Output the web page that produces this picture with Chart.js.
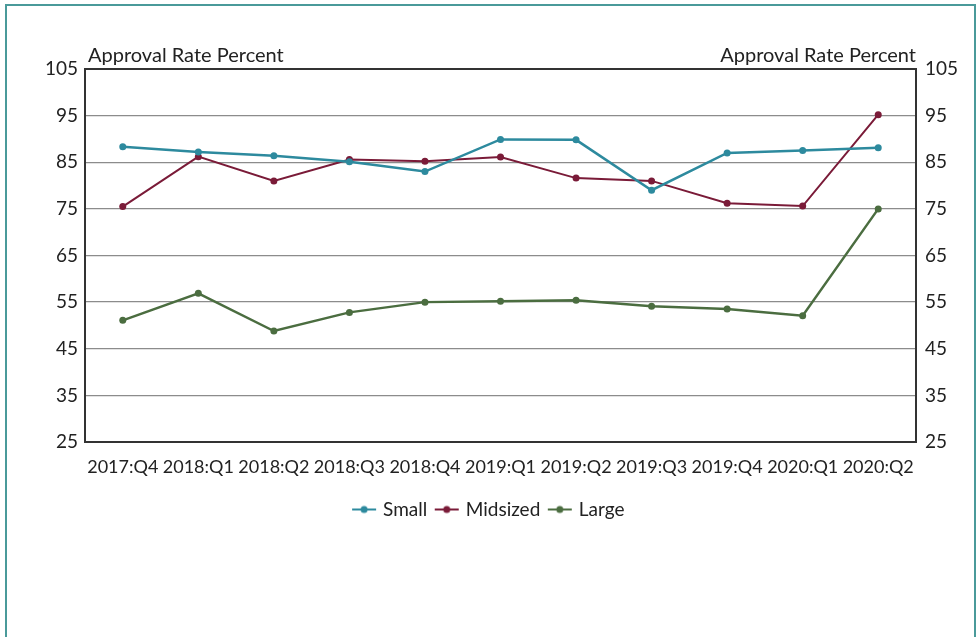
<!DOCTYPE html>
<html>
<head>
<meta charset="utf-8">
<script src="https://cdn.jsdelivr.net/npm/chart.js@4"></script>
<style>
  html, body { margin: 0; padding: 0; background: #fff; }
  #frame {
    position: absolute; left: 5px; top: 4px; width: 971px; height: 660px;
    border: 2px solid #4a9a9a; box-sizing: border-box;
  }
  #wrap { position: absolute; left: 0; top: 0; width: 979px; height: 637px; }
</style>
</head>
<body>
<div id="frame"></div>
<div id="wrap"><canvas id="chart"></canvas></div>
<script>
const quarters = ['2017:Q4', '2018:Q1', '2018:Q2', '2018:Q3', '2018:Q4', '2019:Q1',
  '2019:Q2', '2019:Q3', '2019:Q4', '2020:Q1', '2020:Q2'];
const small = [88.3, 87.2, 86.4, 85.1, 83.0, 89.9, 89.8, 79.0, 87.0, 87.5, 88.1];
const midsized = [75.5, 86.2, 81.0, 85.6, 85.2, 86.1, 81.6, 81.0, 76.2, 75.6, 95.2];
const large = [51.1, 56.9, 48.8, 52.8, 55.0, 55.2, 55.4, 54.1, 53.5, 52.1, 75.0];
const yTicks = [25, 35, 45, 55, 65, 75, 85, 95, 105];
const axisTitle = 'Approval Rate Percent';

const FONT = 'Lato, "Open Sans", sans-serif';

// little line-with-dot swatch for the legend
function swatch(color) {
  const c = document.createElement('canvas');
  c.width = 26; c.height = 10;
  const g = c.getContext('2d');
  g.strokeStyle = color; g.lineWidth = 2;
  g.beginPath(); g.moveTo(1, 5); g.lineTo(25, 5); g.stroke();
  g.fillStyle = color;
  g.beginPath(); g.arc(13, 5, 3.5, 0, Math.PI * 2); g.fill();
  return c;
}

const frameBox = {
  id: 'frameBox',
  afterDatasetsDraw(chart) {
    const { ctx, chartArea: a } = chart;
    ctx.save();
    ctx.strokeStyle = '#333';
    ctx.lineWidth = 2;
    ctx.strokeRect(a.left, a.top, a.right - a.left, a.bottom - a.top);
    ctx.fillStyle = '#222';
    ctx.font = '20px ' + FONT;
    ctx.textBaseline = 'alphabetic';
    ctx.textAlign = 'left';
    ctx.fillText(axisTitle, a.left + 3, a.top - 7);
    ctx.textAlign = 'right';
    ctx.fillText(axisTitle, a.right, a.top - 7);
    ctx.restore();
  }
};

const colors = { small: '#2d8a9e', mid: '#7a1b38', large: '#4b6d40' };

function series(label, data, color, width) {
  return {
    label, data,
    borderColor: color, backgroundColor: color,
    borderWidth: width, pointRadius: 3.5, pointHoverRadius: 3.5,
    pointBorderWidth: 0, tension: 0,
    pointStyle: 'circle'
  };
}

const tickOpts = { color: '#222', font: { family: FONT, size: 19 }, padding: 7 };

new Chart(document.getElementById('chart'), {
  type: 'line',
  data: {
    labels: quarters,
    datasets: [
      series('Small', small, colors.small, 2.5),
      series('Midsized', midsized, colors.mid, 2),
      series('Large', large, colors.large, 2.5)
    ]
  },
  options: {
    responsive: true,
    maintainAspectRatio: false,
    animation: false,
    layout: { padding: { top: 69, left: 0, right: 0, bottom: 108 } },
    plugins: {
      tooltip: { enabled: false },
      legend: {
        position: 'bottom',
        labels: {
          color: '#222',
          font: { family: FONT, size: 19 },
          usePointStyle: true,
          boxWidth: 26, boxHeight: 10,
          padding: 10,
          generateLabels(chart) {
            return chart.data.datasets.map((d, i) => ({
              text: d.label,
              pointStyle: swatch(d.borderColor),
              fillStyle: d.borderColor,
              strokeStyle: d.borderColor,
              fontColor: '#222',
              lineWidth: 0,
              datasetIndex: i
            }));
          }
        }
      }
    },
    scales: {
      x: {
        offset: true,
        grid: { display: false },
        border: { display: false },
        ticks: { ...tickOpts, font: { family: FONT, size: 18 }, maxRotation: 0, autoSkip: false, padding: 6 },
        afterFit(s) { s.height = 48; }
      },
      y: {
        position: 'left',
        min: 25, max: 105,
        afterBuildTicks(s) { s.ticks = yTicks.map(v => ({ value: v })); },
        grid: { color: '#8c8c8c', lineWidth: 1.3, drawTicks: false },
        border: { display: false },
        ticks: tickOpts,
        afterFit(s) { s.width = 85; }
      },
      y2: {
        position: 'right',
        min: 25, max: 105,
        afterBuildTicks(s) { s.ticks = yTicks.map(v => ({ value: v })); },
        grid: { display: false, drawTicks: false },
        border: { display: false },
        ticks: { ...tickOpts, padding: 9 },
        afterFit(s) { s.width = 63; }
      }
    }
  },
  plugins: [frameBox]
});
</script>
</body>
</html>
